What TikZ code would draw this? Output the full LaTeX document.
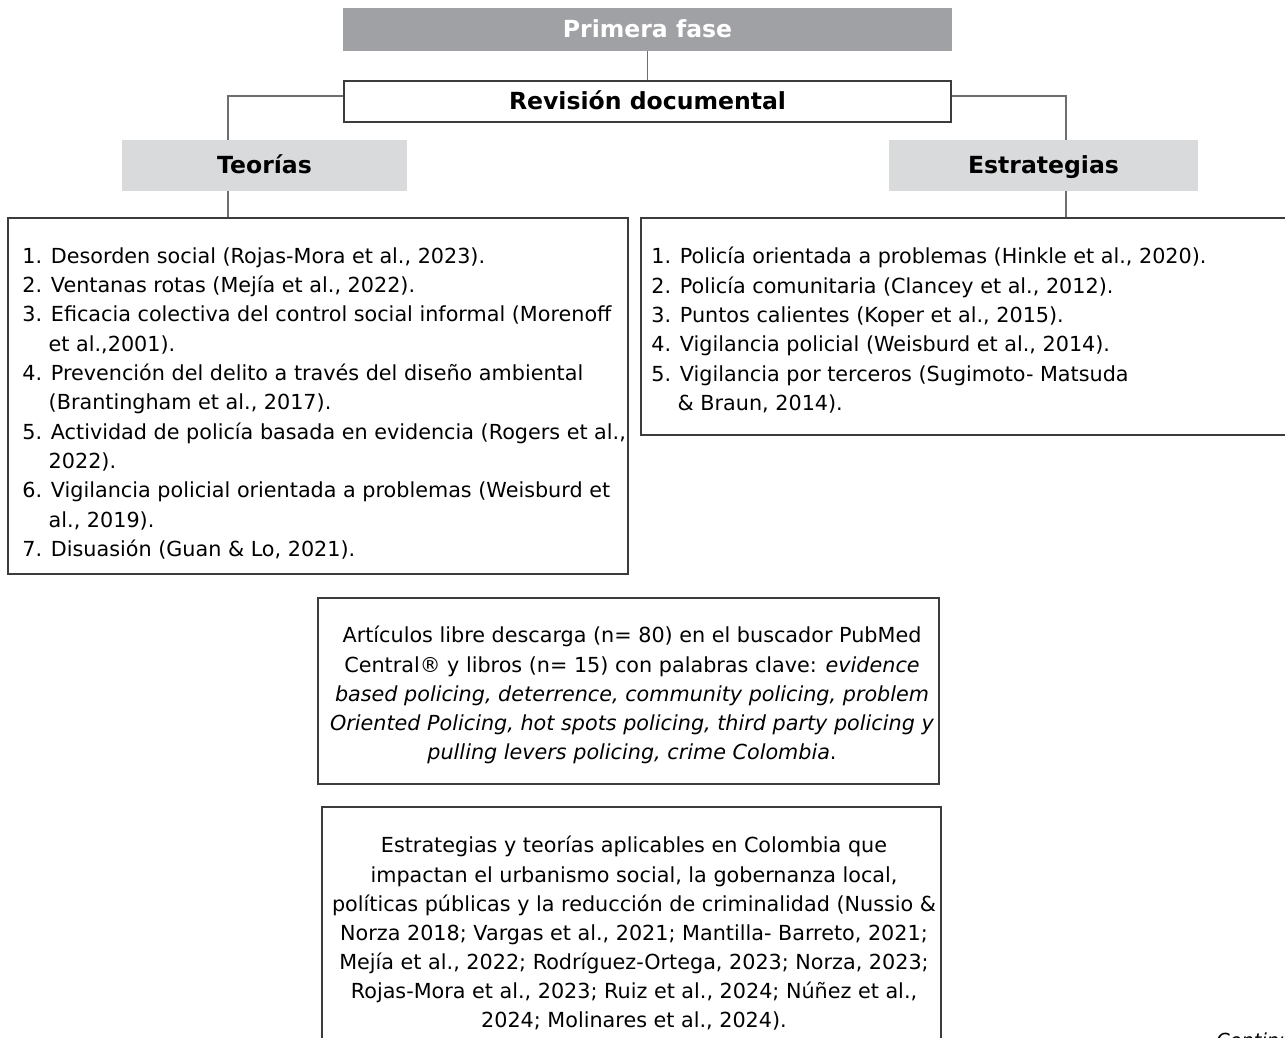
\documentclass[tikz,border=0pt]{standalone}
\usepackage{fontspec}
\setmainfont{DejaVu Sans}
\usetikzlibrary{positioning}
\definecolor{grisfase}{RGB}{160,161,164}
\definecolor{grisclaro}{RGB}{217,218,219}
\definecolor{grislinea}{RGB}{110,110,112}
\definecolor{grisborde}{RGB}{60,60,62}
\newcommand{\sangria}{\phantom{1.\ }}
\tikzset{
  titulo/.style={font=\fontsize{13.4}{16}\selectfont\bfseries, inner sep=0pt, text height=2ex, text depth=0.3ex},
  caja/.style={draw=grisborde, line width=0.7pt, inner sep=0pt},
  lista/.style={font=\fontsize{11.8}{16.7}\selectfont, align=left, inner sep=0pt, anchor=north west},
  parrafo/.style={font=\fontsize{11.8}{16.6}\selectfont, align=center, inner sep=0pt, anchor=north},
  conector/.style={draw=grislinea, line width=0.85pt}
}

\begin{document}
\begin{tikzpicture}[x=0.02cm, y=-0.02cm, node distance=0.58cm]
    \useasboundingbox (0,0) rectangle (1285,1038);
    % cabecera
    \node[titulo, fill=grisfase, text=white, minimum width=12.18cm, minimum height=0.86cm] (fase) at (647.5,29.5) {Primera fase};
    \node[titulo, caja, fill=white, minimum width=12.14cm, minimum height=0.82cm] (revision)[below = of fase] {Revisión documental};
    \node[titulo, fill=grisclaro, minimum width=5.7cm, minimum height=1.02cm] (teorias) at (264.5,165.5) {Teorías};
    \node[titulo, fill=grisclaro, minimum width=6.18cm, minimum height=1.02cm] (estrategias) at (1043.5,165.5) {Estrategias};
    % listas
    \node[caja, minimum width=12.4cm, minimum height=7.12cm] (teoriasLista) at (318,396) {};
    \node[lista] (teoriasTexto) at (22,247) {1. Desorden social (Rojas-Mora et al., 2023).\\
        2. Ventanas rotas (Mejía et al., 2022).\\
        3. Eficacia colectiva del control social informal (Morenoff\\
        \sangria et al.,2001).\\
        4. Prevención del delito a través del diseño ambiental\\
        \sangria (Brantingham et al., 2017).\\
        5. Actividad de policía basada en evidencia (Rogers et al.,\\
        \sangria 2022).\\
        6. Vigilancia policial orientada a problemas (Weisburd et\\
        \sangria al., 2019).\\
        7. Disuasión (Guan \& Lo, 2021).};
    \node[caja, minimum width=12.98cm, minimum height=4.34cm] (estrategiasLista) at (965.5,326.5) {};
    \node[lista] (estrategiasTexto) at (651,247) {1. Policía orientada a problemas (Hinkle et al., 2020).\\
        2. Policía comunitaria (Clancey et al., 2012).\\
        3. Puntos calientes (Koper et al., 2015).\\
        4. Vigilancia policial (Weisburd et al., 2014).\\
        5. Vigilancia por terceros (Sugimoto- Matsuda\\
        \sangria \& Braun, 2014).};
    % cajas inferiores
    \node[caja, minimum width=12.42cm, minimum height=3.72cm] (articulos) at (628.5,691) {};
    \node[parrafo] (articulosTexto) at (632,626) {Artículos libre descarga (n= 80) en el buscador PubMed\\
        Central® y libros (n= 15) con palabras clave: \textit{evidence}\\
        \textit{based policing, deterrence, community policing, problem}\\
        \textit{Oriented Policing, hot spots policing, third party policing y}\\
        \textit{pulling levers policing, crime Colombia}.};
    \node[caja, minimum width=12.38cm, minimum height=4.8cm] (aplicables) at (631.5,927) {};
    \node[parrafo] (aplicablesTexto) at (634,836) {Estrategias y teorías aplicables en Colombia que\\
        impactan el urbanismo social, la gobernanza local,\\
        políticas públicas y la reducción de criminalidad (Nussio \&\\
        Norza 2018; Vargas et al., 2021; Mantilla- Barreto, 2021;\\
        Mejía et al., 2022; Rodríguez-Ortega, 2023; Norza, 2023;\\
        Rojas-Mora et al., 2023; Ruiz et al., 2024; Núñez et al.,\\
        2024; Molinares et al., 2024).};
    \node[anchor=north west, inner sep=0pt, font=\fontsize{11}{13}\selectfont\itshape] (continua) at (1216,1032) {Continúa};
    % conectores
    \draw[conector] (fase) -- (revision);
    \draw[conector] ([yshift=0.11cm]revision.west) -| ([xshift=-0.73cm]teorias.north);
    \draw[conector] ([yshift=0.11cm]revision.east) -| ([xshift=0.45cm]estrategias.north);
    \draw[conector] ([xshift=-0.73cm]teorias.south) -- ([xshift=-0.73cm]teorias.south |- teoriasLista.north);
    \draw[conector] ([xshift=0.45cm]estrategias.south) -- ([xshift=0.45cm]estrategias.south |- estrategiasLista.north);
\end{tikzpicture}
\end{document}
